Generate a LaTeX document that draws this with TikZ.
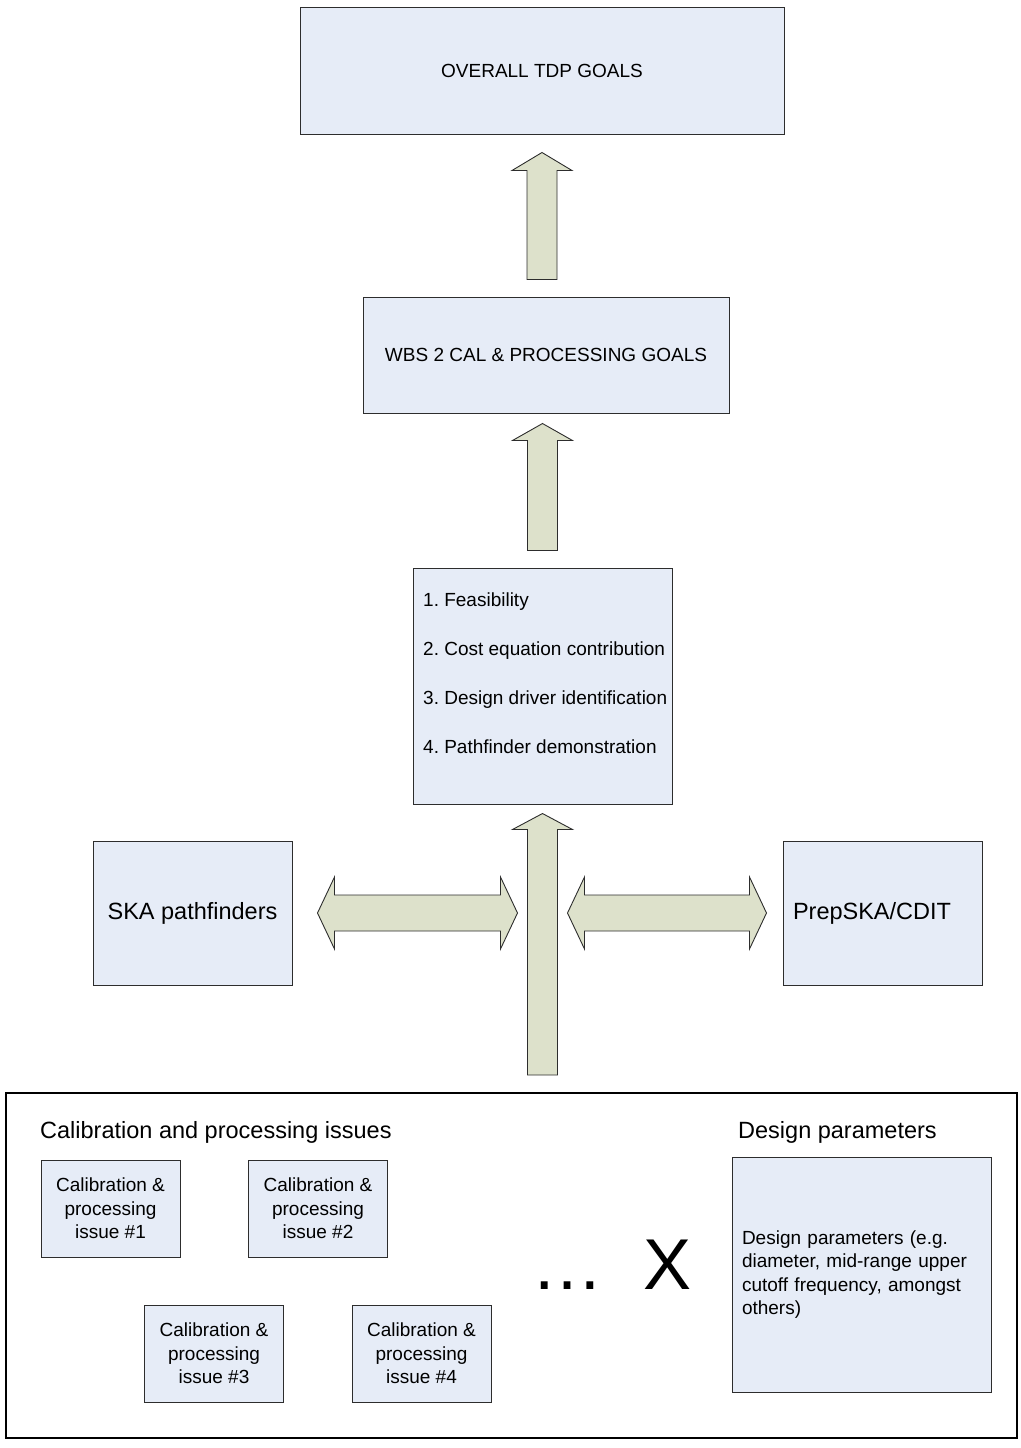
\documentclass[tikz,border=0pt]{standalone}
\usepackage{fontspec}
\setmainfont{Liberation Sans}
\usetikzlibrary{calc}
\definecolor{boxfill}{RGB}{230,236,247}
\definecolor{arrowfill}{RGB}{221,225,203}
\definecolor{edge}{RGB}{45,45,45}
\frenchspacing
\begin{document}
\begin{tikzpicture}[x=1pt,y=-1pt,
    box/.style={draw=edge,fill=boxfill,line width=1pt,inner sep=0pt,
      font=\fontsize{19}{23.5}\selectfont},
    big/.style={font=\fontsize{23.5}{28}\selectfont},
    blockarr/.style={draw=edge,fill=arrowfill,line width=0.9pt,line join=miter}]
      \useasboundingbox (0,0) rectangle (1020,1448);
      \draw
        (542,70.5) node[box,minimum width=484pt,minimum height=127pt] (goals){OVERALL TDP GOALS}
        (546,355) node[box,minimum width=366pt,minimum height=116pt] (wbs){WBS 2 CAL \& PROCESSING GOALS}
        (542.5,686) node[box,minimum width=259pt,minimum height=236pt] (list){}
        (192.5,913) node[box,big,minimum width=199pt,minimum height=144pt] (ska){SKA pathfinders}
        (882.5,913) node[box,big,minimum width=199pt,minimum height=144pt,text width=179pt,align=left] (prep){PrepSKA/CDIT}
        (511.5,1265.5) node[draw=black,line width=2pt,minimum width=1011pt,minimum height=345pt] (frame){}
        (110.5,1208.5) node[box,minimum width=139pt,minimum height=97pt,align=center] (i1){Calibration \&\\processing\\issue \#1}
        (318,1208.5) node[box,minimum width=139pt,minimum height=97pt,align=center] (i2){Calibration \&\\processing\\issue \#2}
        (214,1353.5) node[box,minimum width=139pt,minimum height=97pt,align=center] (i3){Calibration \&\\processing\\issue \#3}
        (421.5,1353.5) node[box,minimum width=139pt,minimum height=97pt,align=center] (i4){Calibration \&\\processing\\issue \#4}
        (861.5,1274.5) node[box,minimum width=259pt,minimum height=235pt,text width=239pt,align=left] (design){Design parameters (e.g.\\diameter, mid-range upper\\cutoff frequency, amongst\\others)};
      \node[anchor=base west,inner sep=0pt,align=left,font=\fontsize{19}{48.7}\selectfont] (items) at (423,753)
        {1. Feasibility\\2. Cost equation contribution\\3. Design driver identification\\4. Pathfinder demonstration};
      \node[big,anchor=base west,inner sep=0pt] (calhead) at (40,1138) {Calibration and processing issues};
      \node[big,anchor=base west,inner sep=0pt] (deshead) at (738,1138) {Design parameters};
      \node[anchor=base west,inner sep=0pt,font=\fontsize{72}{72}\selectfont] (dots) at (531,1289) {…};
      \node[anchor=base west,inner sep=0pt,font=\fontsize{72}{72}\selectfont] (times) at (643,1289) {X};
      \coordinate (a1t) at ($(goals.south)+(0,18)$);
      \coordinate (a1b) at ($(goals.south |- wbs.north)+(0,-17)$);
      \coordinate (a2t) at ($(list.north |- wbs.south)+(0,10)$);
      \coordinate (a2b) at ($(list.north)+(0,-17)$);
      \coordinate (a3t) at ($(list.south)+(0,9)$);
      \coordinate (a3b) at ($(list.south |- frame.north)+(0,-17)$);
      \coordinate (l1) at ($(ska.east)+(25,0)$);
      \coordinate (l2) at ($(ska.east -| list.south)+(-25,0)$);
      \coordinate (r1) at ($(prep.west -| list.south)+(25,0)$);
      \coordinate (r2) at ($(prep.west)+(-16,0)$);
      \begin{scope}[blockarr]
        \filldraw ($(a1b)+(-15,0)$) -- ($(a1t)+(-15,18)$) -- ($(a1t)+(-30,18)$) -- (a1t)
          -- ($(a1t)+(30,18)$) -- ($(a1t)+(15,18)$) -- ($(a1b)+(15,0)$) -- cycle;
        \filldraw ($(a2b)+(-15,0)$) -- ($(a2t)+(-15,17)$) -- ($(a2t)+(-30,17)$) -- (a2t)
          -- ($(a2t)+(30,17)$) -- ($(a2t)+(15,17)$) -- ($(a2b)+(15,0)$) -- cycle;
        \filldraw ($(a3b)+(-15,0)$) -- ($(a3t)+(-15,16)$) -- ($(a3t)+(-30,16)$) -- (a3t)
          -- ($(a3t)+(30,16)$) -- ($(a3t)+(15,16)$) -- ($(a3b)+(15,0)$) -- cycle;
        \filldraw (l1) -- ($(l1)+(17,-36)$) -- ($(l1)+(17,-18)$) -- ($(l2)+(-17,-18)$) -- ($(l2)+(-17,-36)$)
          -- (l2) -- ($(l2)+(-17,36)$) -- ($(l2)+(-17,18)$) -- ($(l1)+(17,18)$) -- ($(l1)+(17,36)$) -- cycle;
        \filldraw (r1) -- ($(r1)+(17,-36)$) -- ($(r1)+(17,-18)$) -- ($(r2)+(-17,-18)$) -- ($(r2)+(-17,-36)$)
          -- (r2) -- ($(r2)+(-17,36)$) -- ($(r2)+(-17,18)$) -- ($(r1)+(17,18)$) -- ($(r1)+(17,36)$) -- cycle;
      \end{scope}
    \end{tikzpicture}
\end{document}
